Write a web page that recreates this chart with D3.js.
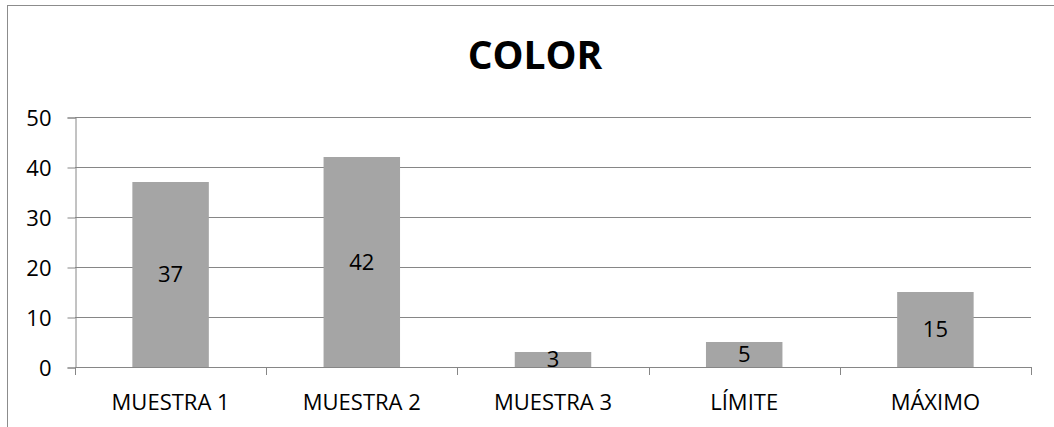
<!DOCTYPE html>
<html>
<head>
<meta charset="utf-8">
<script src="https://cdn.jsdelivr.net/npm/d3@7"></script>
<style>
  html, body { margin: 0; padding: 0; background: #fff; }
  svg { display: block; }
  text { font-family: "Open Sans", "Noto Sans", sans-serif; fill: #000; }
</style>
</head>
<body>
<svg id="chart" width="1054" height="427"></svg>
<script>
const categories = ["MUESTRA 1", "MUESTRA 2", "MUESTRA 3", "LÍMITE", "MÁXIMO"];
const values = [37, 42, 3, 5, 15];
const yTicks = [0, 10, 20, 30, 40, 50];
const title = "COLOR";

const W = 1054, H = 427;
const margin = { left: 75, right: 23, top: 117, bottom: 60 };
const svg = d3.select("#chart");

// chart border (extends past the right/bottom of the viewport)
svg.append("rect")
  .attr("x", 7.5).attr("y", 5.5)
  .attr("width", 1060).attr("height", 440)
  .attr("fill", "none").attr("stroke", "#8c8c8c").attr("stroke-width", 1);

const x = d3.scaleBand()
  .domain(categories)
  .range([margin.left, W - margin.right])
  .paddingInner(0.6).paddingOuter(0.3);

const xBounds = d3.scaleLinear()
  .domain([0, categories.length])
  .range([margin.left, W - margin.right]);

const y = d3.scaleLinear().domain([0, 50]).range([367, 117]);

// gridlines
svg.append("g").selectAll("line")
  .data(yTicks.filter(d => d > 0))
  .join("line")
  .attr("x1", margin.left).attr("x2", W - margin.right)
  .attr("y1", d => Math.round(y(d)) + 0.5).attr("y2", d => Math.round(y(d)) + 0.5)
  .attr("stroke", "#868686").attr("stroke-width", 1);

// y axis
const yAxis = d3.axisLeft(y).tickValues(yTicks).tickSize(8).tickPadding(16)
  .tickFormat(d3.format("d"));
const gy = svg.append("g").attr("transform", `translate(${margin.left + 0.5},0.5)`).call(yAxis);
gy.select(".domain").attr("stroke", "#868686");
gy.selectAll(".tick line").attr("stroke", "#868686");
gy.selectAll(".tick text").attr("font-size", 22).attr("dy", "0.35em")
  .style("font-family", "'Open Sans', sans-serif");

// bars
svg.append("g").selectAll("rect")
  .data(values)
  .join("rect")
  .attr("x", (d, i) => x(categories[i]))
  .attr("width", x.bandwidth())
  .attr("y", d => y(d))
  .attr("height", d => y(0) - y(d))
  .attr("fill", "#a5a5a5");

// x axis line
svg.append("line")
  .attr("x1", margin.left).attr("x2", W - margin.right)
  .attr("y1", y(0) + 0.5).attr("y2", y(0) + 0.5)
  .attr("stroke", "#868686");

// x boundary ticks
svg.append("g").selectAll("line")
  .data(d3.range(categories.length + 1))
  .join("line")
  .attr("x1", d => Math.round(xBounds(d)) + 0.5).attr("x2", d => Math.round(xBounds(d)) + 0.5)
  .attr("y1", y(0)).attr("y2", y(0) + 8)
  .attr("stroke", "#868686");

// x labels
svg.append("g").selectAll("text")
  .data(categories)
  .join("text")
  .attr("x", d => x(d) + x.bandwidth() / 2)
  .attr("y", 410)
  .attr("text-anchor", "middle")
  .attr("font-size", 22)
  .text(d => d);

// data labels
svg.append("g").selectAll("text")
  .data(values)
  .join("text")
  .attr("x", (d, i) => x(categories[i]) + x.bandwidth() / 2)
  .attr("y", d => (y(d) + y(0)) / 2)
  .attr("dy", "0.36em")
  .attr("text-anchor", "middle")
  .attr("font-size", 22)
  .text(d => d);

// title
svg.append("text")
  .attr("x", 535).attr("y", 69)
  .attr("text-anchor", "middle")
  .attr("font-size", 39)
  .attr("font-weight", "bold")
  .text(title);
</script>
</body>
</html>
